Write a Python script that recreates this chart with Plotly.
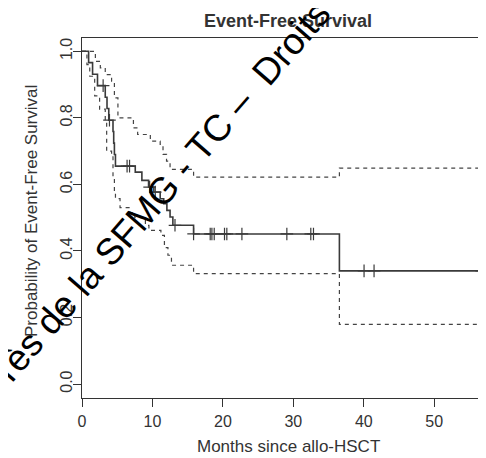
import plotly.graph_objects as go

# Kaplan-Meier estimate (step change points: time in months, survival after step)
km_time = [0, 0.94, 1.5, 2.2, 3.3, 3.55, 3.8, 4.4, 4.5, 4.6, 4.75, 7.56, 8.5, 9.45,
           10.2, 11.1, 11.6, 12.05, 12.5, 12.9, 15.84, 36.54, 56.74]
km_surv = [1.0, 0.966, 0.931, 0.897, 0.862, 0.828, 0.793, 0.759, 0.724, 0.690, 0.655,
           0.637, 0.612, 0.592, 0.577, 0.557, 0.542, 0.522, 0.502, 0.477, 0.451, 0.340, 0.340]

# Censored observations
cens_time = [3.0, 3.9, 6.4, 6.75, 9.6, 10.4, 13.2, 15.84, 18.2, 18.44, 18.77, 20.23,
             20.56, 22.7, 29.08, 32.48, 32.86, 40.04, 41.46, 56.74]
cens_surv = [0.897, 0.793, 0.655, 0.655, 0.592, 0.577, 0.477, 0.451, 0.451, 0.451, 0.451,
             0.451, 0.451, 0.451, 0.451, 0.451, 0.451, 0.340, 0.340, 0.340]

# 95% confidence limits
up_time = [0, 1.9, 2.6, 3.3, 4.2, 4.6, 5.1, 7.3, 7.9, 9.7, 11.1, 11.5, 12.0, 12.5,
           15.84, 36.54, 56.74]
up_surv = [1.0, 0.97, 0.95, 0.93, 0.91, 0.86, 0.80, 0.77, 0.75, 0.73, 0.72, 0.69, 0.67,
           0.645, 0.622, 0.649, 0.649]

lo_time = [0, 0.7, 1.1, 1.8, 2.5, 3.3, 3.5, 4.2, 4.4, 4.6, 4.75, 5.4, 6.8, 7.5, 9.0,
           9.5, 11.2, 11.7, 12.2, 12.7, 15.84, 36.54, 56.74]
lo_surv = [1.0, 0.96, 0.925, 0.866, 0.826, 0.79, 0.70, 0.69, 0.62, 0.58, 0.557, 0.53,
           0.515, 0.50, 0.477, 0.462, 0.447, 0.41, 0.387, 0.357, 0.332, 0.179, 0.179]

x_ticks = [0, 10, 20, 30, 40, 50]
y_ticks = [0.0, 0.2, 0.4, 0.6, 0.8, 1.0]
y_tick_text = ["0.0", "0.2", "0.4", "0.6", "0.8", "1.0"]

FONT = "Liberation Sans, Arial, sans-serif"
INK = "#333333"

# page body has an 8px margin; plot area spans page x 82..486, y 38..398
PX0, PY0 = 8, 8
L, T, B = 82 - PX0, 38 - PY0, 60
W, H = 486 - PX0, 458 - PY0
PW, PH = W - L, H - T - B


def px(x):
    return (x - PX0 - L) / PW


def py(y):
    return (PY0 + T + PH - y) / PH


fig = go.Figure()
for t, s in [(up_time, up_surv), (lo_time, lo_surv)]:
    fig.add_trace(go.Scatter(x=t, y=s, mode="lines", line_shape="hv",
                             line=dict(color="#444444", width=1.2, dash="4px,4px"),
                             hoverinfo="skip", showlegend=False))
fig.add_trace(go.Scatter(x=km_time, y=km_surv, mode="lines", line_shape="hv",
                         line=dict(color="#3a3a3a", width=1.6), showlegend=False))
fig.add_trace(go.Scatter(x=cens_time, y=cens_surv, mode="markers",
                         marker=dict(symbol="cross-thin", size=9,
                                     line=dict(color="#3a3a3a", width=1.2)),
                         showlegend=False))

fig.update_layout(
    width=W, height=H,
    margin=dict(l=L, r=0, t=T, b=B, autoexpand=False),
    paper_bgcolor="white", plot_bgcolor="white",
    font=dict(family=FONT, color=INK, size=16),
    xaxis=dict(range=[0, 57.35], tickvals=x_ticks, ticks="outside", ticklen=8,
               tickcolor=INK, showline=True, linecolor=INK, linewidth=1, mirror=True,
               showgrid=False, zeroline=False, tickfont=dict(size=16, color=INK),
               ticklabelstandoff=1, automargin=False),
    yaxis=dict(range=[-0.042, 1.04], tickvals=y_ticks, ticktext=y_tick_text,
               ticks="outside", ticklen=8, tickcolor=INK, showline=True, linecolor=INK,
               linewidth=1, mirror=False, showgrid=False, zeroline=False,
               tickangle=-90, tickfont=dict(size=16, color=INK),
               ticklabelstandoff=-5, automargin=False),
    annotations=[
        dict(text="<b>Event-Free Survival</b>", xref="paper", yref="paper",
             x=px(288), y=py(21), xanchor="center", yanchor="middle",
             showarrow=False, font=dict(size=18, color=INK, family=FONT)),
        dict(text="Months since allo-HSCT", xref="paper", yref="paper",
             x=px(288), y=py(446), xanchor="center", yanchor="middle",
             showarrow=False, font=dict(size=17, color=INK, family=FONT)),
        dict(text="Probability of Event-Free Survival", xref="paper", yref="paper",
             x=px(32), y=py(211), xanchor="center", yanchor="middle",
             textangle=-90, showarrow=False, font=dict(size=17, color=INK, family=FONT)),
        dict(text="rès de la SFMG - TC –  Droits", xref="paper", yref="paper",
             x=px(162), y=py(191), xanchor="center", yanchor="middle",
             textangle=-49, showarrow=False, font=dict(size=37, color="black", family=FONT)),
    ],
)

fig.write_html("out.html")
